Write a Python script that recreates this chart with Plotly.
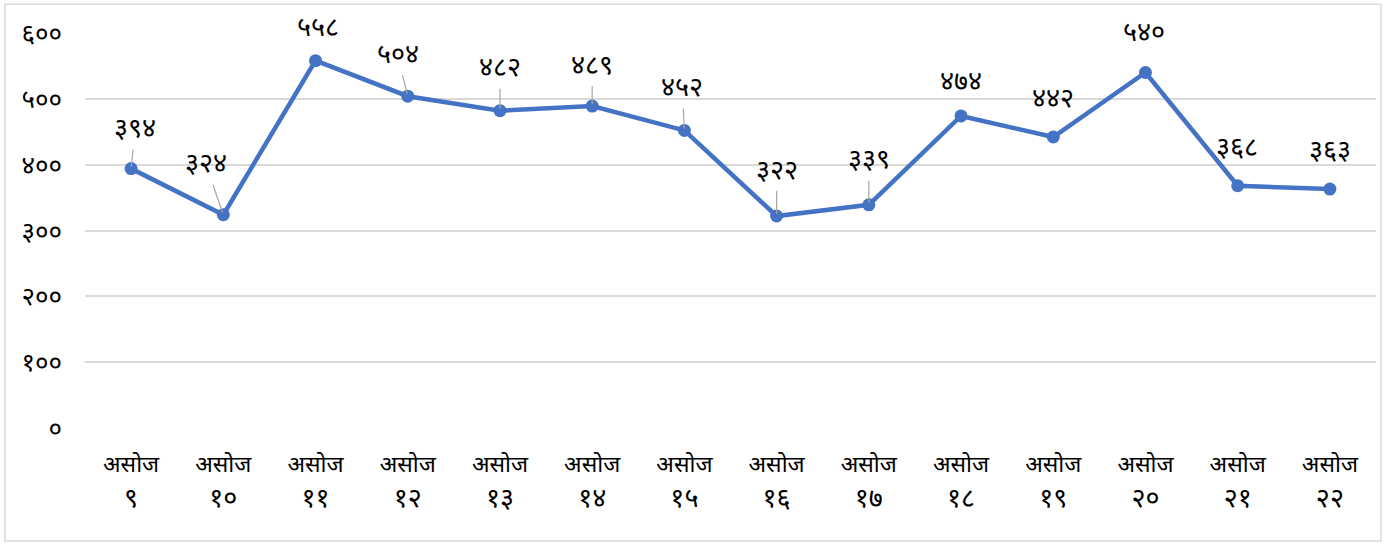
import plotly.graph_objects as go

# ---- data ----
month = "असोज"
days = ["९", "१०", "११", "१२", "१३", "१४", "१५", "१६", "१७", "१८", "१९", "२०", "२१", "२२"]
values = [394, 324, 558, 504, 482, 489, 452, 322, 339, 474, 442, 540, 368, 363]
y_tick_vals = [0, 100, 200, 300, 400, 500, 600]
y_tick_labels = ["०", "१००", "२००", "३००", "४००", "५००", "६००"]

# label placement (pixel offsets of text from point) and leader line flag
label_dx = [4, -17, 2, -10, 0, 0, -2, 0, 0, 0, 0, -1, -1, 0]
label_dy = [-38, -49, -31, -40, -41, -39, -41, -44, -43, -32, -37, -38, -36, -37]
leader = [True, True, False, True, True, True, True, True, True, False, False, False, False, False]

DEV = str.maketrans("0123456789", "०१२३४५६७८९")
FONT = "Noto Sans Devanagari, Nirmala UI, Mangal, Noto Sans, sans-serif"

categories = ['<span style="font-size:23px">%s</span><br>%s' % (month, d) for d in days]

fig = go.Figure()
fig.add_trace(go.Scatter(
    x=list(range(len(values))), y=values, mode="lines+markers",
    line=dict(color="#4472C4", width=4.5),
    marker=dict(color="#4472C4", size=13),
    hoverinfo="skip", showlegend=False, cliponaxis=False,
))

annotations = []
for i, v in enumerate(values):
    txt = str(v).translate(DEV)
    if leader[i]:
        annotations.append(dict(
            x=i, y=v, xref="x", yref="y", text=txt, showarrow=True,
            arrowhead=0, arrowwidth=1.2, arrowcolor="#a6a6a6", standoff=2,
            ax=label_dx[i], ay=label_dy[i],
            font=dict(family=FONT, size=27, color="#000000"),
        ))
    else:
        annotations.append(dict(
            x=i, y=v, xref="x", yref="y", text=txt, showarrow=False,
            xshift=label_dx[i], yshift=-label_dy[i],
            font=dict(family=FONT, size=27, color="#000000"),
        ))

fig.update_layout(
    width=1387, height=546,
    margin=dict(l=85, r=11, t=33, b=118),
    paper_bgcolor="white", plot_bgcolor="white",
    font=dict(family=FONT, size=20, color="#000000"),
    annotations=annotations,
    hovermode=False,
    xaxis=dict(
        tickmode="array", tickvals=list(range(len(categories))), ticktext=categories,
        range=[-0.5, len(categories) - 0.5], showgrid=False, zeroline=False,
        showline=False, ticks="", ticklabelstandoff=16,
        tickfont=dict(family=FONT, size=27, color="#000000"),
    ),
    yaxis=dict(
        tickmode="array", tickvals=y_tick_vals, ticktext=y_tick_labels,
        range=[0, 600], showgrid=True, gridcolor="#d9d9d9", gridwidth=1.5,
        zeroline=False, showline=False, ticks="", ticklabelstandoff=22,
        tickfont=dict(family=FONT, size=26, color="#000000"),
    ),
    shapes=[dict(type="rect", xref="paper", yref="paper",
                 x0=-0.062, x1=1.0039, y0=-0.286, y1=1.073,
                 line=dict(color="#d9d9d9", width=1.5), fillcolor="rgba(0,0,0,0)",
                 layer="below")],
)

fig.write_html("out.html", config={"displayModeBar": False},
               post_script="document.body.style.margin='0';document.body.style.overflow='hidden';")
